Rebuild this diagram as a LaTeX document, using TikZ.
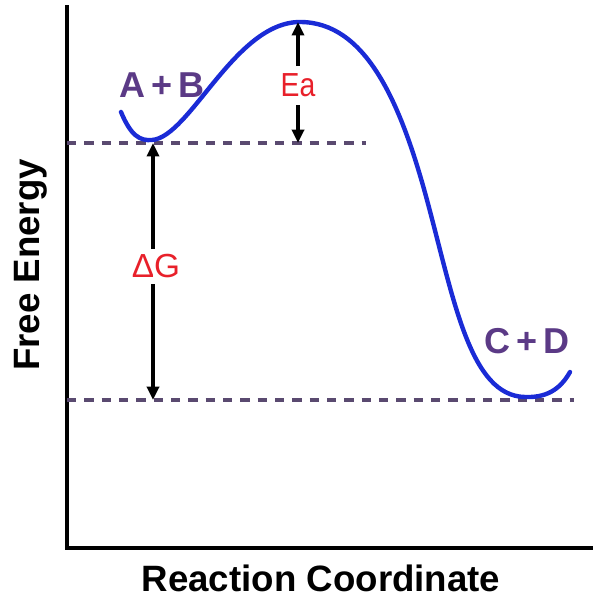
\documentclass[tikz,border=0pt]{standalone}
\usepackage{fontspec}
\setmainfont{Liberation Sans}
\usetikzlibrary{arrows.meta}
\definecolor{lblpurple}{HTML}{5B3A86}
\definecolor{lblred}{HTML}{E8202A}
\definecolor{curveblue}{HTML}{1A2BD6}
\definecolor{dashpurple}{HTML}{5A4A70}
\tikzset{
  axis/.style={line width=3pt, black},
  guide/.style={line width=2.4pt, dashpurple, dash pattern=on 7pt off 6pt},
  curve/.style={line width=3.3pt, curveblue},
  arr/.style={line width=2.6pt, black, -{Triangle[length=10pt,width=9pt]}},
  species/.style={text=lblpurple, font=\fontsize{27}{30}\selectfont\bfseries, inner sep=0pt},
  qty/.style={text=lblred, font=\fontsize{25}{28}\selectfont, inner sep=0pt},
  axislabel/.style={font=\fontsize{27.5}{30}\selectfont\bfseries, inner sep=0pt}
}
\begin{document}
\begin{tikzpicture}[x=0.75pt,y=-0.75pt]
\useasboundingbox (0,0) rectangle (593,601);
% axes
\coordinate (ytop) at (67,5);
\coordinate (origin) at (67,548);
\coordinate (xend) at (593,548);
\draw[axis] (ytop) -- (origin) -- (xend);
% guides
\coordinate (g1a) at (67,143);
\coordinate (g1b) at (366,143);
\coordinate (g2a) at (67,400);
\coordinate (g2b) at (574,400);
\draw[guide] (g1a) -- (g1b);
\draw[guide] (g2a) -- (g2b);
% curve
\draw[curve, line cap=round] (121,112) .. controls (131,136) and (140,141) .. (152,140)
  .. controls (190,137) and (235,22) .. (300,22)
  .. controls (365,22) and (400,100) .. (427,200)
  .. controls (454,300) and (470,396) .. (525,397)
  .. controls (550,398) and (562,386) .. (570,372);
% labels
\node[species] (ab) at (162,85) {A\,+\,B};
\node[species] (cd) at (527,341) {C\,+\,D};
\node[qty, xscale=0.85] (ea) at (298,85) {Ea};
\node[qty] (dg) at (156,266) {ΔG};
% arrows
\coordinate (eatop) at (298,22);
\coordinate (eabot) at (298,143);
\coordinate (dgtop) at (153,143);
\coordinate (dgbot) at (153,400);
\draw[arr] (298,66) -- (eatop);
\draw[arr] (298,105) -- (eabot);
\draw[arr] (153,249) -- (dgtop);
\draw[arr] (153,284) -- (dgbot);
% axis titles
\node[axislabel, rotate=90] (ylab) at (31,265) {Free Energy};
\node[axislabel] (xlab) at (321,578) {Reaction Coordinate};
\end{tikzpicture}
\end{document}
